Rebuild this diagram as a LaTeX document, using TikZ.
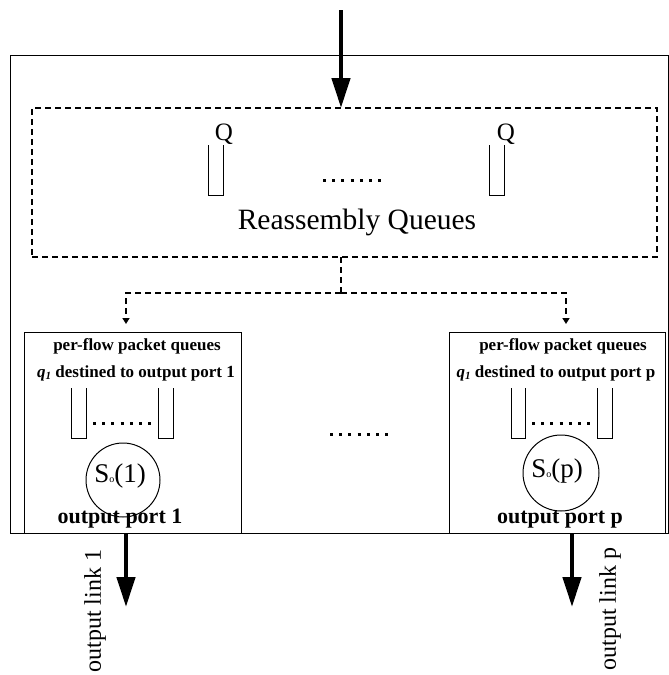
\documentclass[tikz,border=0pt]{standalone}
\usepackage{fontspec}
\setmainfont{Liberation Serif}
\usetikzlibrary{arrows.meta}
\tikzset{
  frame/.style={draw, line width=1pt, inner sep=0pt, outer sep=0pt, anchor=north west},
  dashframe/.style={draw, line width=1.8pt, dash pattern=on 6pt off 4pt, inner sep=0pt, outer sep=0pt, anchor=north west},
  dashconn/.style={line width=1.8pt, dash pattern=on 6pt off 4pt},
  smalltip/.style={-{Triangle[length=6pt,width=7pt]}},
  bigarrow/.style={line width=4.5pt, -{Triangle[length=30pt,width=18pt]}},
  queue/.style={line width=1pt},
  dotrow/.style={line width=3pt, dash pattern=on 3pt off 6.2pt},
  lbl/.style={inner sep=0pt, anchor=base},
  pfq/.style={lbl, font=\fontsize{17}{17}\selectfont\bfseries},
  portlbl/.style={lbl, font=\fontsize{22}{22}\selectfont\bfseries},
  linklbl/.style={inner sep=0pt, rotate=90, font=\fontsize{24}{24}\selectfont},
  sched/.style={draw, circle, line width=1pt, inner sep=0pt, minimum size=#1}
}
\newcommand{\qone}{{\itshape q}\raisebox{-2pt}{\fontsize{11}{11}\selectfont\itshape 1}}
\newcommand{\subo}{\raisebox{0pt}{\fontsize{10}{10}\selectfont o}}
\begin{document}
\begin{tikzpicture}[x=1pt,y=-1pt]
\useasboundingbox (0,0) rectangle (669,675);
% outer switch box
\node[frame, minimum width=658pt, minimum height=478pt] (outer) at (10,55) {};
% reassembly queues (dashed)
\node[dashframe, minimum width=625pt, minimum height=149pt] (reasm) at (32,108) {};
% output ports
\node[frame, minimum width=217pt, minimum height=201pt] (port1) at (24,332) {};
\node[frame, minimum width=216pt, minimum height=201pt] (portp) at (449,332) {};

% input arrow
\coordinate (in) at (341,10);
\draw[bigarrow] (in) -- (reasm.north -| in);

% reassembly queue contents
\node[lbl, font=\fontsize{25}{25}\selectfont] (qa) at (224,140) {Q};
\node[lbl, font=\fontsize{25}{25}\selectfont] (qb) at (506,140) {Q};
\draw[queue] (208,145) |- (223,195) -- (223,145);
\draw[queue] (489,145) |- (504,195) -- (504,145);
\draw[dotrow] (323,180) -- (384,180);
\node[lbl, font=\fontsize{29.5}{29.5}\selectfont] (rq) at (357,229) {Reassembly Queues};

% dashed distribution
\coordinate (split) at (341,293);
\coordinate (e1) at (126,324);
\coordinate (ep) at (566,324);
\draw[dashconn] (reasm.south -| split) -- (split);
\draw[dashconn, smalltip] (split) -| (e1);
\draw[dashconn, smalltip] (split) -| (ep);

% port 1 contents
\node[pfq] (pf1) at (137,350) {per-flow packet queues};
\node[pfq] (dq1) at (136,377) {\qone{} destined to output port 1};
\draw[queue] (71,388) |- (86,438) -- (86,388);
\draw[queue] (158,388) |- (173,438) -- (173,388);
\draw[dotrow] (93,423) -- (154,423);
\node[sched=74pt] (s1) at (123,480) {};
\node[lbl, font=\fontsize{27}{27}\selectfont] (s1t) at (120,482) {S\subo(1)};
\node[portlbl] (op1) at (120,523) {output port 1};

% port p contents
\node[pfq] (pfp) at (563,350) {per-flow packet queues};
\node[pfq] (dqp) at (556,377) {\qone{} destined to output port p};
\draw[queue] (511,388) |- (525,438) -- (525,388);
\draw[queue] (597,388) |- (612,438) -- (612,388);
\draw[dotrow] (532,423) -- (593,423);
\node[sched=76pt] (sp) at (561,473) {};
\node[lbl, font=\fontsize{27}{27}\selectfont] (spt) at (557,477) {S\subo(p)};
\node[portlbl] (opp) at (560,523) {output port p};

% middle dots between ports
\draw[dotrow] (330,434) -- (391,434);

% output links
\coordinate (o1) at (126,607);
\coordinate (op) at (572,607);
\draw[bigarrow] (port1.south -| o1) -- (o1);
\draw[bigarrow] (portp.south -| op) -- (op);
\node[linklbl] (l1) at (95,611) {output link 1};
\node[linklbl] (lp) at (610,609) {output link p};
\end{tikzpicture}
\end{document}
